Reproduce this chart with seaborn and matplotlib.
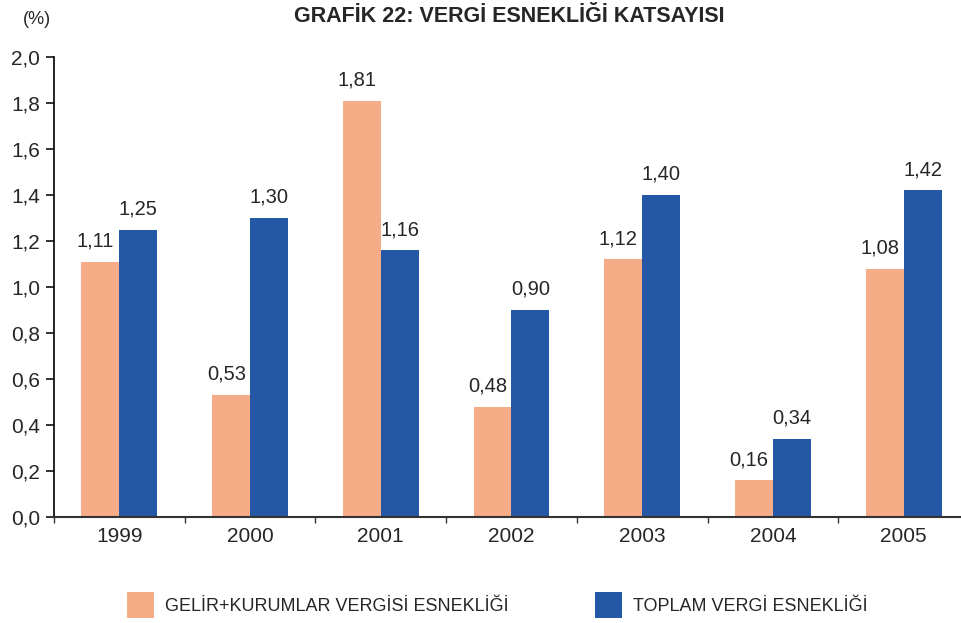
import numpy as np
import pandas as pd
import matplotlib
matplotlib.use("Agg")
import matplotlib.pyplot as plt
import seaborn as sns
from matplotlib.patches import Patch
from matplotlib.ticker import FixedLocator

# veriler
yillar = ["1999", "2000", "2001", "2002", "2003", "2004", "2005"]
gelir_kurumlar = [1.11, 0.53, 1.81, 0.48, 1.12, 0.16, 1.08]
toplam = [1.25, 1.30, 1.16, 0.90, 1.40, 0.34, 1.42]
seri_adlari = ["GELİR+KURUMLAR VERGİSİ ESNEKLİĞİ", "TOPLAM VERGİ ESNEKLİĞİ"]
y_ticks = [0.0, 0.2, 0.4, 0.6, 0.8, 1.0, 1.2, 1.4, 1.6, 1.8, 2.0]
renkler = ["#F5AC87", "#2457A4"]

df = pd.DataFrame({
    "yil": yillar * 2,
    "deger": gelir_kurumlar + toplam,
    "seri": [seri_adlari[0]] * len(yillar) + [seri_adlari[1]] * len(yillar),
})

sns.set_style("white")
plt.rcParams["font.family"] = ["Liberation Sans Narrow", "Liberation Sans", "DejaVu Sans"]

fig = plt.figure(figsize=(9.61, 6.23), dpi=100)
ax = fig.add_axes([54 / 961, 106 / 623, 915 / 961, 460 / 623])

sns.barplot(data=df, x="yil", y="deger", hue="seri", palette=renkler,
            width=0.58, dodge=True, saturation=1, linewidth=0, ax=ax, legend=False)

# değer etiketleri (virgüllü)
for i, cont in enumerate(ax.containers):
    etiketler = ax.bar_label(cont, labels=[f"{v:.2f}".replace(".", ",") for v in cont.datavalues],
                             padding=8, fontsize=14.5, family="Liberation Sans")
    if i == 0:
        for t in etiketler:
            t.xyann = (-3.5, t.xyann[1])

ax.set_xlim(-0.5, 6.5)
ax.set_ylim(0, 2.0)
ax.set_yticks(y_ticks)
ax.set_yticklabels([f"{t:.1f}".replace(".", ",") for t in y_ticks],
                   fontsize=15, family="Liberation Sans")
ax.set_xticks(range(len(yillar)))
ax.set_xticklabels(yillar, fontsize=15, family="Liberation Sans")
ax.xaxis.set_minor_locator(FixedLocator(np.arange(-0.5, 7, 1.0)))
ax.tick_params(axis="x", which="major", length=0, pad=7)
ax.tick_params(axis="x", which="minor", length=4, width=1, direction="out", color="#333333", bottom=True)
ax.tick_params(axis="y", length=6, width=1.2, direction="out", left=True, pad=4, color="#111111")
ax.set_xlabel("")
ax.set_ylabel("")

sns.despine(ax=ax)
ax.spines["left"].set_color("#111111")
ax.spines["left"].set_linewidth(1.3)
ax.spines["bottom"].set_color("#333333")
ax.spines["bottom"].set_linewidth(1.5)

fig.text(509 / 961, 1 - 16 / 623, "GRAFİK 22: VERGİ ESNEKLİĞİ KATSAYISI",
         ha="center", va="center", fontsize=15.5, fontweight="bold")
fig.text(37 / 961, 1 - 20 / 623, "(%)", ha="center", va="center",
         fontsize=13, family="Liberation Sans")

handles = [Patch(facecolor=c, edgecolor="none") for c in renkler]
fig.legend(handles, seri_adlari, loc="center", bbox_to_anchor=(497 / 961, 1 - 605 / 623),
           ncol=2, frameon=False, fontsize=13, handlelength=1.5, handleheight=1.9,
           handletextpad=0.6, columnspacing=4.8)

fig.savefig("out.png", dpi=100)
